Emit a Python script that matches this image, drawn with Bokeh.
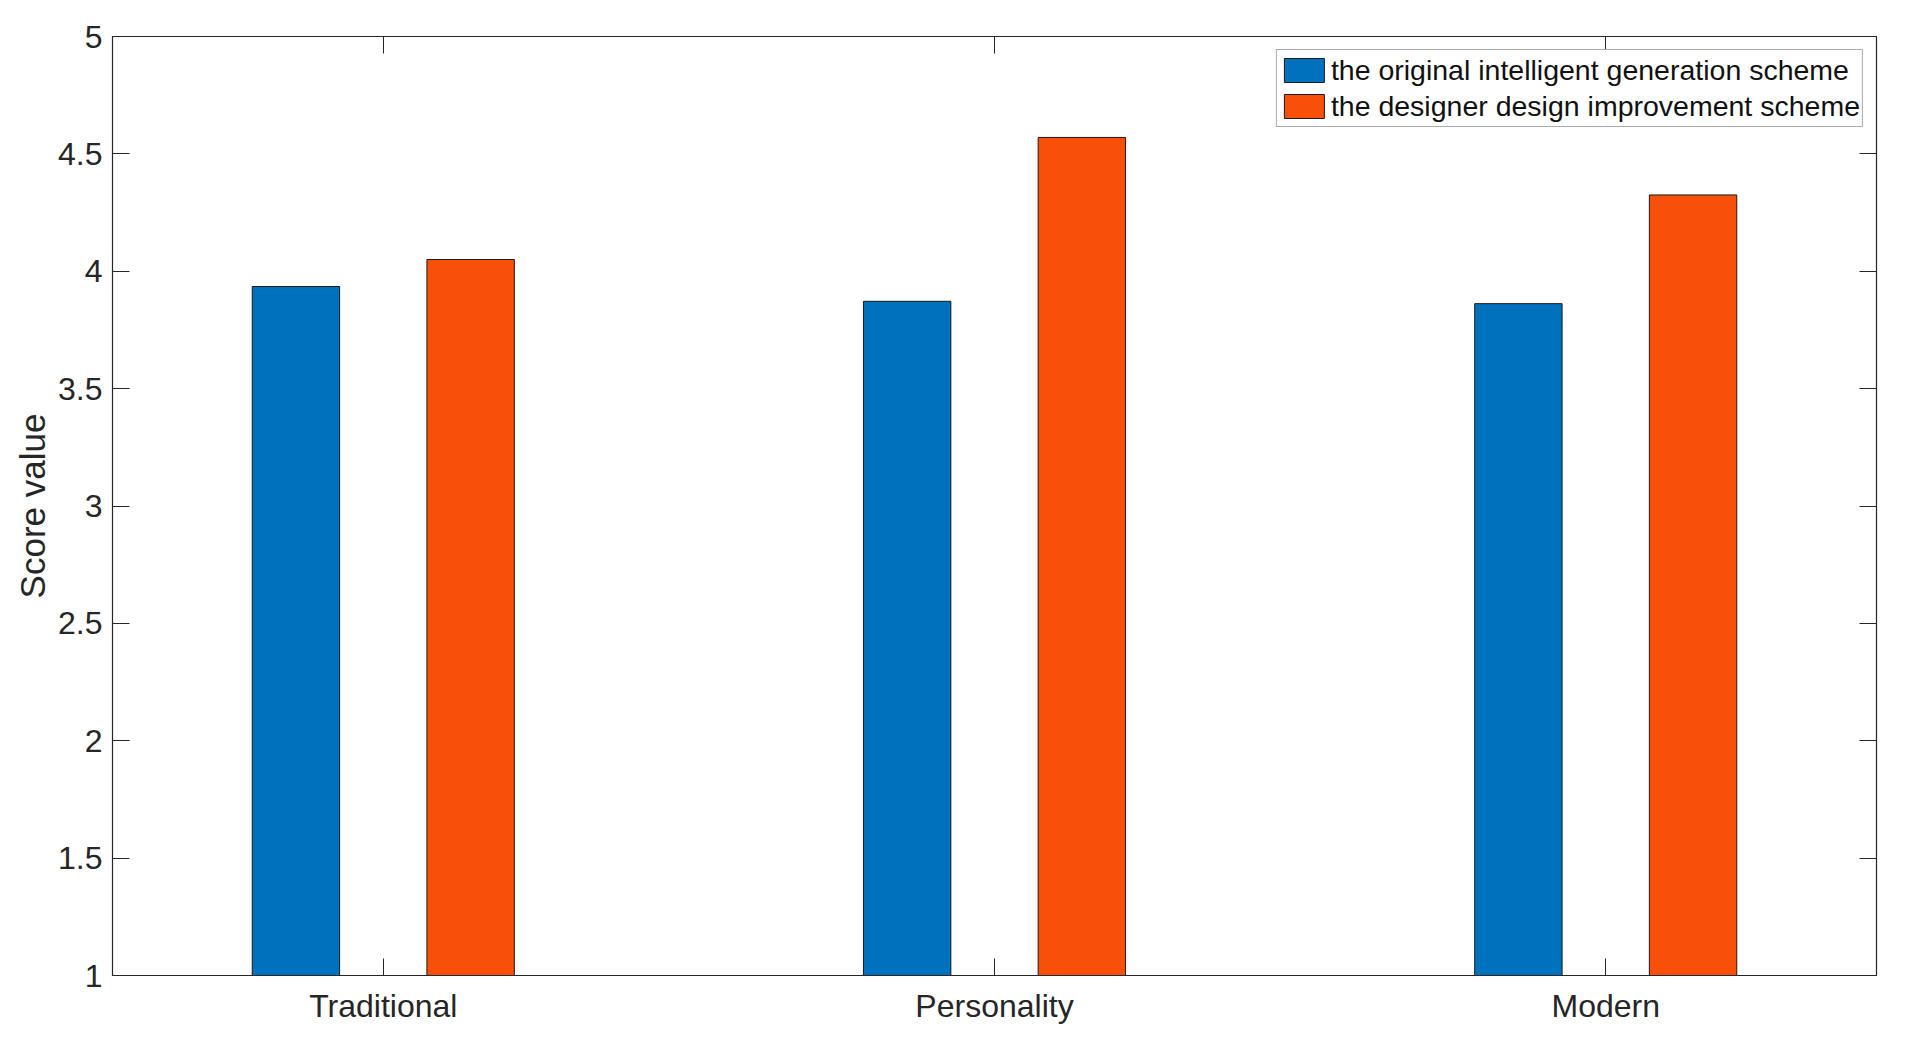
from bokeh.plotting import figure
from bokeh.models import ColumnDataSource, LinearAxis, FixedTicker, Range1d, Legend, LegendItem
from bokeh.transform import dodge
from bokeh.embed import file_html
from bokeh.resources import INLINE

categories = ["Traditional", "Personality", "Modern"]
positions = [1, 2, 3]
original_scheme = [3.935, 3.872, 3.862]
improved_scheme = [4.050, 4.570, 4.325]
y_ticks = [1, 1.5, 2, 2.5, 3, 3.5, 4, 4.5, 5]
y_tick_labels = ["1", "1.5", "2", "2.5", "3", "3.5", "4", "4.5", "5"]
series_names = ["the original intelligent generation scheme",
                "the designer design improvement scheme"]

FONT = "Liberation Sans"
TXT = "#262626"

src = ColumnDataSource(dict(x=positions, a=original_scheme, b=improved_scheme))

p = figure(width=1890, height=1026, output_backend="svg", toolbar_location=None,
           x_range=Range1d(0.557, 3.443), y_range=Range1d(1, 5),
           min_border_left=112, min_border_top=36, min_border_right=14, min_border_bottom=51)
p.xgrid.visible = False
p.ygrid.visible = False
p.outline_line_color = TXT
p.outline_line_width = 1.2

w = 0.143
r1 = p.vbar(x=dodge("x", -0.1429, range=p.x_range), top="a", bottom=1, width=w, source=src,
            fill_color="#0072BD", line_color="#1a1a1a", line_width=1)
r2 = p.vbar(x=dodge("x", 0.1429, range=p.x_range), top="b", bottom=1, width=w, source=src,
            fill_color="#F8500A", line_color="#1a1a1a", line_width=1)

def style(ax):
    ax.major_tick_in = 17
    ax.major_tick_out = 0
    ax.minor_tick_in = 0
    ax.minor_tick_out = 0
    ax.major_tick_line_color = TXT
    ax.minor_tick_line_color = TXT
    ax.axis_line_color = TXT
    ax.major_label_text_font = FONT
    ax.major_label_text_color = TXT
    ax.major_label_text_font_size = "32px"

xa = p.xaxis[0]
xa.ticker = FixedTicker(ticks=positions)
xa.major_label_overrides = {pos: c for pos, c in zip(positions, categories)}
style(xa)
xa.major_label_standoff = 12

ya = p.yaxis[0]
ya.ticker = FixedTicker(ticks=y_ticks)
ya.major_label_overrides = {t: l for t, l in zip(y_ticks, y_tick_labels)}
style(ya)
ya.major_label_standoff = 10
ya.axis_label = "Score value"
ya.axis_label_text_font = FONT
ya.axis_label_text_font_size = "35px"
ya.axis_label_text_font_style = "normal"
ya.axis_label_text_color = TXT
ya.axis_label_standoff = 3

# mirrored tick marks on the top and right edges (minor ticks carry no labels)
top_ax = LinearAxis(ticker=FixedTicker(ticks=[], minor_ticks=positions))
style(top_ax)
top_ax.minor_tick_in = 17
top_ax.major_label_standoff = 0
p.add_layout(top_ax, "above")
right_ax = LinearAxis(ticker=FixedTicker(ticks=[], minor_ticks=y_ticks))
style(right_ax)
right_ax.minor_tick_in = 17
right_ax.major_label_standoff = 0
p.add_layout(right_ax, "right")

legend = Legend(items=[LegendItem(label=series_names[0], renderers=[r1]),
                       LegendItem(label=series_names[1], renderers=[r2])],
                location="top_right")
legend.margin = 13
legend.padding = 2
legend.spacing = 0
legend.glyph_width = 50
legend.glyph_height = 30
legend.label_standoff = 2
legend.label_height = 36
legend.label_text_font = FONT
legend.label_text_font_size = "28.5px"
legend.label_text_color = "#111111"
legend.border_line_color = "#555555"
legend.border_line_width = 1
legend.background_fill_alpha = 1
p.add_layout(legend, "center")

open("out.html", "w").write(file_html(p, INLINE))
